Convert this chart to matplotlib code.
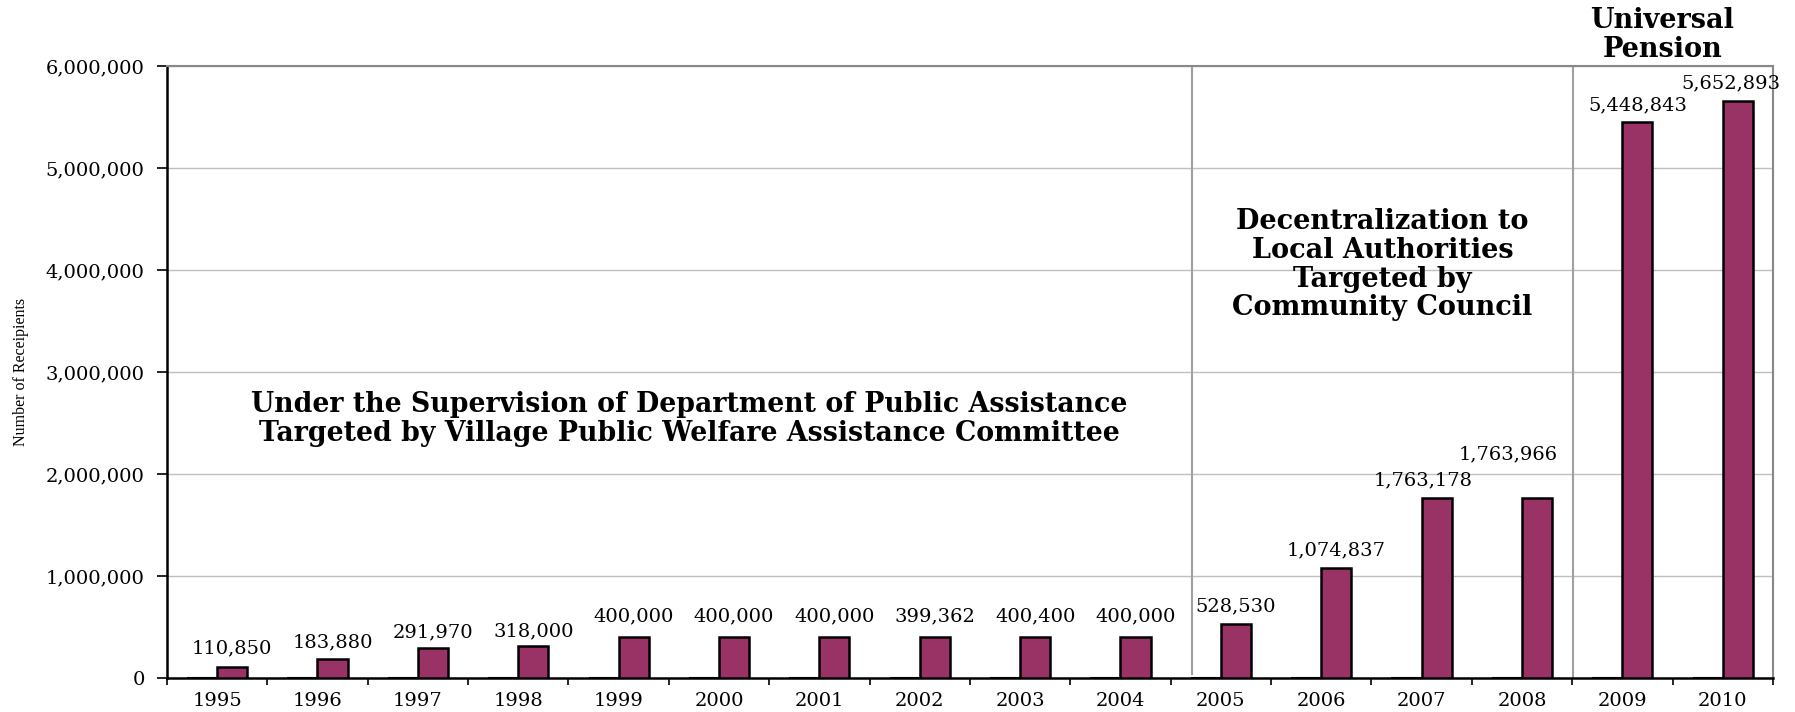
import matplotlib
matplotlib.use("Agg")
from matplotlib import pyplot as plt
from matplotlib.ticker import FuncFormatter, FixedLocator
import numpy as np

# data
years = ["1995", "1996", "1997", "1998", "1999", "2000", "2001", "2002",
         "2003", "2004", "2005", "2006", "2007", "2008", "2009", "2010"]
receipients = [110850, 183880, 291970, 318000, 400000, 400000, 400000, 399362,
               400400, 400000, 528530, 1074837, 1763178, 1763966, 5448843, 5652893]
empty_series = [0] * len(years)

# label nudges (pixels) so labels sit where the original has them
label_dx = [0, 0, 0, 0, 0, 0, 0, 0, 0, 0, 0, 0, -14, -29, 0, -7]
label_dy = [18, 17, 16, 14, 21, 21, 21, 21, 21, 21, 18, 18, 18, 44, 17, 18]

BAR_COLOR = "#993366"
num_font = "DejaVu Serif"

fig = plt.figure(figsize=(17.95, 7.12), dpi=100)
ax = fig.add_axes([0.0930, 0.0478, 0.8947, 0.8595])

x = np.arange(len(years))
w = 0.3
ax.bar(x - w / 2, empty_series, width=w, color=BAR_COLOR, edgecolor="black", linewidth=1.5, zorder=3)
bars = ax.bar(x + w / 2, receipients, width=w, color=BAR_COLOR, edgecolor="black", linewidth=1.8, zorder=3)

for b, v, dx, dy in zip(bars, receipients, label_dx, label_dy):
    ax.annotate(f"{v:,}", (b.get_x() + b.get_width() / 2, v), xytext=(dx, dy),
                textcoords="offset pixels", ha="center", va="center",
                fontsize=14, family=num_font, zorder=4)

ax.set_xlim(-0.5, len(years) - 0.5)
ax.set_ylim(0, 6000000)
ax.yaxis.set_major_locator(FixedLocator(np.arange(0, 6000001, 1000000)))
ax.yaxis.set_major_formatter(FuncFormatter(lambda v, p: f"{int(v):,}"))
ax.grid(axis="y", color="#c0c0c0", linewidth=1, zorder=0)
ax.set_axisbelow(True)

# ticks between groups, year labels in the middle
ax.set_xticks(np.arange(-0.5, len(years), 1))
ax.set_xticklabels([])
ax.set_xticks(x, minor=True)
ax.set_xticklabels(years, minor=True, fontsize=14, family=num_font)
ax.tick_params(axis="x", which="major", length=5, width=1.2, direction="out")
ax.tick_params(axis="x", which="minor", length=0, pad=10)
ax.tick_params(axis="y", length=7, width=1.2, direction="out", pad=9)
for t in ax.get_yticklabels():
    t.set_family(num_font)
    t.set_fontsize(14)

ax.spines["left"].set_linewidth(1.8)
ax.spines["bottom"].set_linewidth(1.8)
ax.spines["top"].set_color("#888888")
ax.spines["right"].set_color("#888888")
ax.spines["top"].set_linewidth(1.5)
ax.spines["right"].set_linewidth(1.5)

ax.set_ylabel("Number of Receipients", family="Liberation Serif", fontsize=11.5)
ax.yaxis.set_label_coords(-0.086, 0.5)

# period separators
ax.plot([9.71, 9.71], [40000, 6000000], color="#a0a0a0", linewidth=1.5, zorder=2)
ax.axvline(13.51, color="#a0a0a0", linewidth=1.5, zorder=2)

bold = dict(family="DejaVu Serif", fontweight="bold", ha="center", va="center")
ax.text(4.70, 2540000, "Under the Supervision of Department of Public Assistance\n"
        "Targeted by Village Public Welfare Assistance Committee",
        fontsize=19.3, linespacing=1.13, **bold)
ax.text(11.61, 4050000, "Decentralization to\nLocal Authorities\nTargeted by\nCommunity Council",
        fontsize=19.5, linespacing=1.08, **bold)
ax.text(14.40, 6305000, "Universal\nPension", fontsize=19.5, linespacing=1.08,
        clip_on=False, **bold)

fig.savefig("out.png", dpi=100)
